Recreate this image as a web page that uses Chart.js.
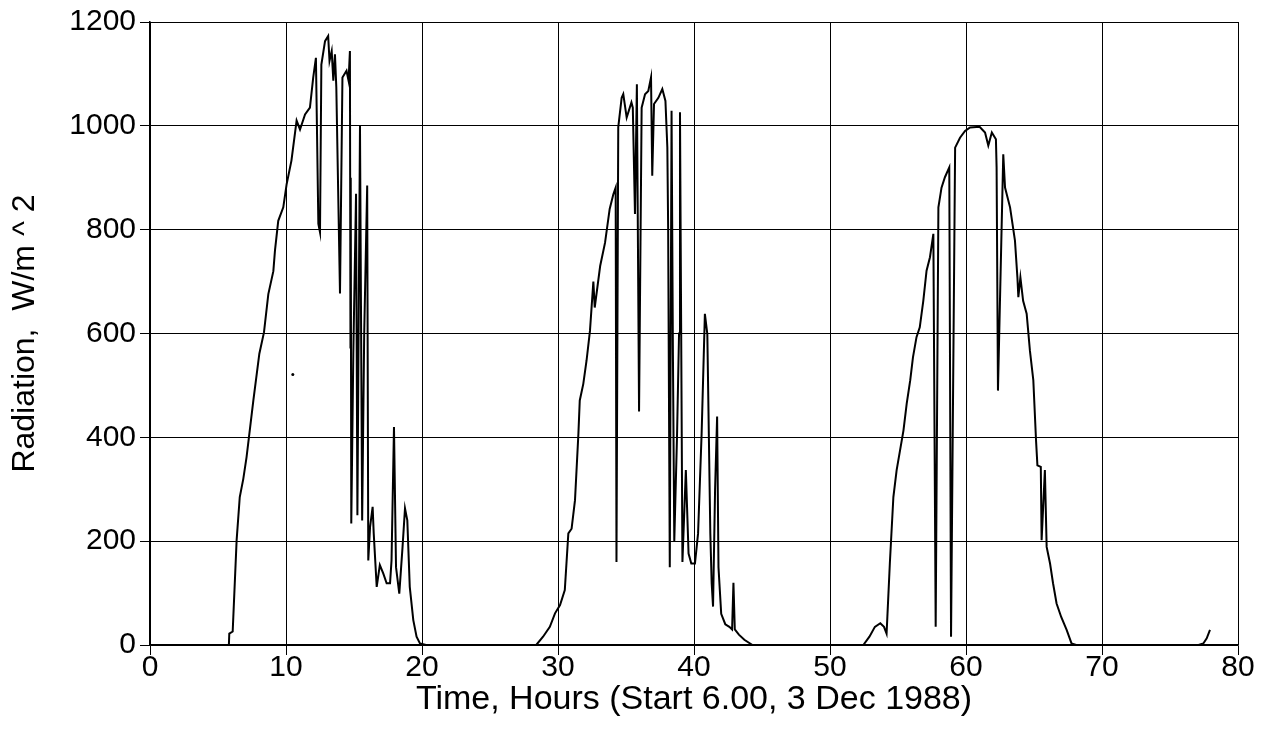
<!DOCTYPE html>
<html>
<head>
<meta charset="utf-8">
<title>Radiation</title>
<script src="https://cdn.jsdelivr.net/npm/chart.js@4/dist/chart.umd.min.js"></script>
<style>
  html, body { margin: 0; padding: 0; background: #fff; }
  #wrap { width: 1269px; height: 738px; }
</style>
</head>
<body>
<div id="wrap"><canvas id="radChart" width="1269" height="738"></canvas></div>
<script>
// ─── Data ─────────────────────────────────────────────────────────────────────
const hours = [
  0, 5.8, 5.83, 6.08, 6.37, 6.6, 6.86, 7.1, 7.6, 8.04, 8.38, 8.7, 9.07, 9.19, 9.43, 9.8,
  10.05, 10.4, 10.78, 11.03, 11.4, 11.76, 12.0, 12.2, 12.38, 12.5, 12.6, 12.87, 13.1, 13.2,
  13.36, 13.48, 13.6, 13.7, 13.97, 14.15, 14.45, 14.6, 14.7, 14.74, 14.76, 14.8, 14.95, 15.15,
  15.25, 15.44, 15.6, 15.75, 15.97, 16.05, 16.18, 16.37, 16.45, 16.67, 16.9, 17.15, 17.4,
  17.65, 17.76, 17.94, 18.09, 18.33, 18.57, 18.75, 18.92, 19.1, 19.36, 19.6, 19.85, 20.3,
  28.4, 28.9, 29.4, 29.78, 30.15, 30.5, 30.76, 31.0, 31.25, 31.5, 31.6, 31.86, 32.1, 32.35,
  32.6, 32.7, 33.1, 33.46, 33.8, 34.07, 34.24, 34.3, 34.43, 34.68, 34.8, 35.05, 35.4, 35.5,
  35.66, 35.8, 35.96, 36.15, 36.4, 36.64, 36.84, 36.93, 37.06, 37.38, 37.67, 37.9, 38.04,
  38.1, 38.22, 38.35, 38.45, 38.55, 38.75, 38.9, 38.97, 39.15, 39.4, 39.6, 39.8, 40.07, 40.3,
  40.56, 40.8, 40.98, 41.2, 41.3, 41.4, 41.55, 41.7, 41.8, 42.0, 42.3, 42.6, 42.8, 42.9,
  43.0, 43.3, 43.7, 44.3,
  52.45, 52.9, 53.3, 53.7, 53.97, 54.16, 54.4, 54.66, 54.9, 55.15, 55.4, 55.64, 55.9, 56.1,
  56.36, 56.6, 56.86, 57.1, 57.35, 57.6, 57.77, 57.97, 58.2, 58.45, 58.77, 58.9, 59.2, 59.56,
  59.93, 60.3, 61.0, 61.4, 61.64, 61.9, 62.2, 62.25, 62.35, 62.74, 62.87, 63.24, 63.6, 63.78,
  63.85, 64.0, 64.2, 64.46, 64.7, 64.95, 65.15, 65.25, 65.5, 65.56, 65.8, 65.93, 66.18, 66.4,
  66.66, 67.0, 67.4, 67.76, 68.1, 77.1, 77.45, 77.7, 77.94
];

const radiation = [
  0, 0, 22, 26, 202, 285, 320, 362, 471, 561, 602, 676, 720, 760, 817, 843,
  888, 933, 1010, 993, 1022, 1035, 1093, 1131, 811, 795, 1118, 1163, 1173, 1125,
  1144, 1087, 1138, 1074, 677, 1093, 1106, 1087, 1144, 573, 900, 234, 560, 869,
  250, 1000, 240, 600, 885, 163, 227, 266, 215, 112, 154, 138, 119,
  119, 163, 420, 150, 99, 189, 263, 240, 112, 48, 16, 3, 0,
  0, 16, 35, 61, 77, 106, 215, 224, 279, 407, 471, 503, 548, 605,
  700, 650, 730, 775, 840, 868, 881, 160, 997, 1054, 1061, 1016, 1045, 1035,
  830, 1080, 450, 1035, 1061, 1067, 1093, 904, 1042, 1054, 1071, 1048, 958,
  800, 150, 1029, 560, 200, 400, 600, 1026, 160, 337, 176, 157, 157, 215,
  407, 638, 599, 215, 119, 74, 300, 440, 150, 60, 40, 35, 30, 120,
  30, 20, 10, 0,
  0, 16, 35, 42, 35, 22, 157, 285, 337, 375, 413, 465, 510, 554,
  593, 612, 663, 721, 747, 792, 35, 843, 881, 901, 920, 16, 958, 977,
  990, 997, 998, 987, 962, 987, 974, 920, 490, 945, 881, 843, 779, 708,
  670, 708, 663, 638, 567, 510, 394, 346, 343, 202, 337, 189, 157, 119,
  80, 54, 29, 3, 0, 0, 3, 13, 29
];

// single stray dot left of the first day's plateau
const strayHours = [10.5];
const strayRadiation = [521];

const xTicks = [0, 10, 20, 30, 40, 50, 60, 70, 80];
const yTicks = [0, 200, 400, 600, 800, 1000, 1200];

// ─── Chart ────────────────────────────────────────────────────────────────────
const FONT = 'Liberation Sans, Arial, Helvetica, sans-serif';

new Chart(document.getElementById('radChart'), {
  type: 'line',
  data: {
    datasets: [
      {
        data: hours.map((h, i) => ({ x: h, y: radiation[i] })),
        borderColor: '#000',
        borderWidth: 2,
        pointRadius: 0,
        tension: 0,
        fill: false
      },
      {
        data: strayHours.map((h, i) => ({ x: h, y: strayRadiation[i] })),
        showLine: false,
        pointRadius: 1.5,
        pointBackgroundColor: '#000',
        pointBorderWidth: 0
      }
    ]
  },
  options: {
    responsive: false,
    animation: false,
    devicePixelRatio: 1,
    layout: { padding: { top: 21, right: 31, left: 0, bottom: 0 } },
    plugins: { legend: { display: false }, tooltip: { enabled: false } },
    scales: {
      x: {
        type: 'linear',
        min: 0,
        max: 80,
        afterFit: s => { s.height = 93; },
        afterBuildTicks: s => { s.ticks = xTicks.map(v => ({ value: v })); },
        border: { color: '#000', width: 1.5 },
        grid: { color: '#000', lineWidth: 1, tickLength: 10, tickColor: '#000' },
        ticks: {
          color: '#000', padding: -5, maxRotation: 0,
          font: { family: FONT, size: 30 },
          callback: v => String(v)
        },
        title: {
          display: true,
          text: 'Time, Hours (Start 6.00, 3 Dec 1988)',
          color: '#000',
          padding: { top: 0, bottom: 18 },
          font: { family: FONT, size: 34 }
        }
      },
      y: {
        min: 0,
        max: 1200,
        afterFit: s => { s.width = 150; },
        afterBuildTicks: s => { s.ticks = yTicks.map(v => ({ value: v })); },
        border: { color: '#000', width: 1.5 },
        grid: { color: '#000', lineWidth: 1, tickLength: 10, tickColor: '#000' },
        ticks: {
          color: '#000', padding: 4,
          font: { family: FONT, size: 30 },
          callback: v => String(v)
        },
        title: {
          display: true,
          text: 'Radiation,  W/m ^ 2',
          color: '#000',
          padding: { top: 6, bottom: 0 },
          font: { family: FONT, size: 32 }
        }
      }
    }
  }
});
</script>
</body>
</html>
